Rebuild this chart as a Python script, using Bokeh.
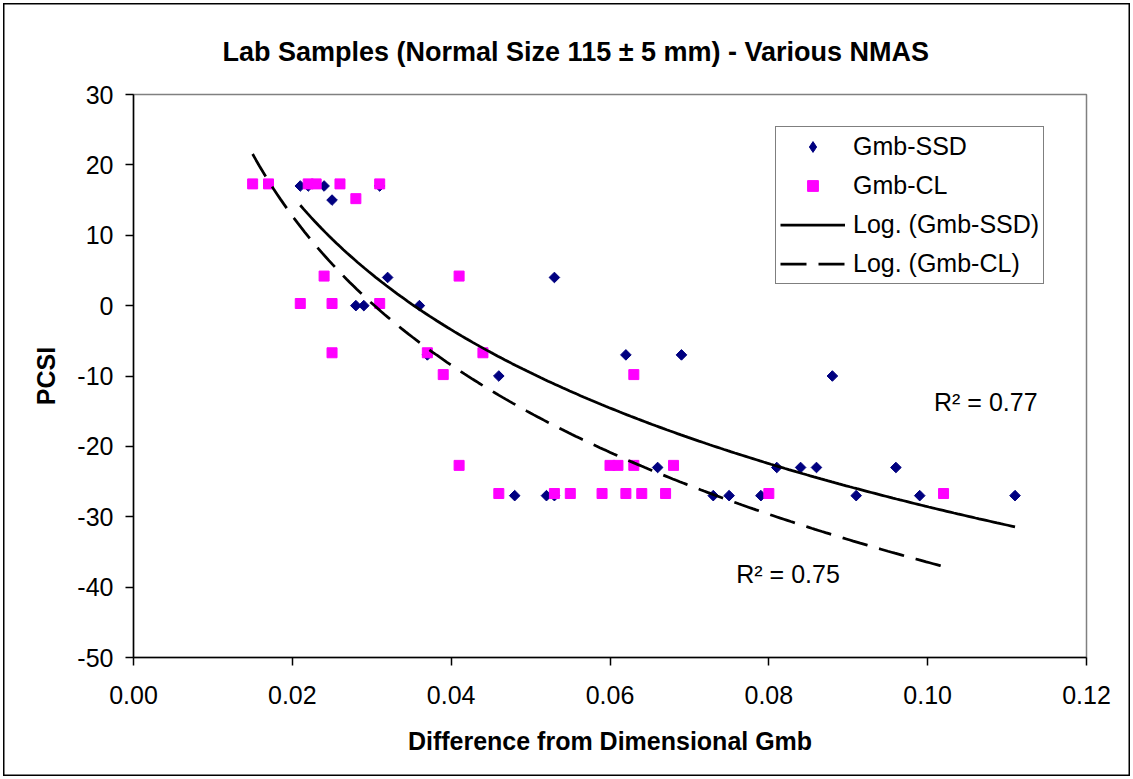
import numpy as np
from bokeh.plotting import figure
from bokeh.models import (Legend, LegendItem, Label, Range1d, FixedTicker,
                          NumeralTickFormatter)
from bokeh.embed import file_html
from bokeh.resources import INLINE

# ---------------- data ----------------
ssd_x = [0.021, 0.022, 0.024, 0.031, 0.025, 0.032, 0.053, 0.028, 0.029, 0.036,
         0.037, 0.062, 0.069, 0.046, 0.088, 0.066, 0.081, 0.084, 0.086, 0.096,
         0.048, 0.052, 0.053, 0.073, 0.075, 0.079, 0.091, 0.099, 0.111]
ssd_y = [17, 17, 17, 17, 15, 4, 4, 0, 0, 0,
         -7, -7, -7, -10, -10, -23, -23, -23, -23, -23,
         -27, -27, -27, -27, -27, -27, -27, -27, -27]

cl_x = [0.015, 0.017, 0.022, 0.023, 0.026, 0.031, 0.028, 0.024, 0.041,
        0.021, 0.025, 0.031, 0.025, 0.037, 0.044, 0.039, 0.063,
        0.041, 0.060, 0.061, 0.063, 0.068,
        0.046, 0.053, 0.055, 0.059, 0.062, 0.064, 0.067, 0.080, 0.102]
cl_y = [17.3, 17.3, 17.3, 17.3, 17.3, 17.3, 15.2, 4.2, 4.2,
        0.3, 0.3, 0.3, -6.7, -6.7, -6.7, -9.8, -9.8,
        -22.7, -22.7, -22.7, -22.7, -22.7,
        -26.7, -26.7, -26.7, -26.7, -26.7, -26.7, -26.7, -26.7, -26.7]

x_ticks = [0.00, 0.02, 0.04, 0.06, 0.08, 0.10, 0.12]
y_ticks = [-50, -40, -30, -20, -10, 0, 10, 20, 30]

title_text = "Lab Samples (Normal Size 115 \u00b1 5 mm) - Various NMAS"
x_label = "Difference from Dimensional Gmb"
y_label = "PCSI"
series_names = ["Gmb-SSD", "Gmb-CL", "Log. (Gmb-SSD)", "Log. (Gmb-CL)"]
r2_texts = ["R\u00b2 = 0.77", "R\u00b2 = 0.75"]

FONT = "Liberation Sans"


def log_trend(xs, ys, n=200):
    xs = np.asarray(xs, float)
    ys = np.asarray(ys, float)
    a, b = np.polyfit(np.log(xs), ys, 1)
    gx = np.linspace(xs.min(), xs.max(), n)
    return gx, a * np.log(gx) + b


p = figure(width=1133, height=779, output_backend="svg", toolbar_location=None,
           x_range=Range1d(0, 0.12), y_range=Range1d(-50, 30),
           min_border_left=133, min_border_right=47,
           min_border_top=94, min_border_bottom=122,
           background_fill_color="white", border_fill_color="white",
           border_fill_alpha=0.0)
# outer chart-area border drawn by the host element behind the transparent border area
p.styles = {"background-color": "white",
            "box-shadow": "inset 0 0 0 3px white, inset 0 0 0 4.5px black"}

p.title.text = title_text
p.title.align = "left"
p.title.offset = 89
p.title.text_font = FONT
p.title.text_font_size = "27px"
p.title.text_font_style = "bold"
p.title.text_color = "black"
p.title.standoff = 56

p.xgrid.grid_line_color = None
p.ygrid.grid_line_color = None
p.outline_line_color = "#808080"
p.outline_line_width = 1.5

for ax in (p.xaxis[0], p.yaxis[0]):
    ax.axis_line_color = "black"
    ax.axis_line_width = 1.5
    ax.major_tick_line_color = "black"
    ax.major_tick_line_width = 1.5
    ax.major_tick_out = 8
    ax.major_tick_in = 0
    ax.minor_tick_line_color = None
    ax.major_label_text_font = FONT
    ax.major_label_text_font_size = "25px"
    ax.major_label_text_color = "black"
    ax.axis_label_text_font = FONT
    ax.axis_label_text_font_size = "25px"
    ax.axis_label_text_font_style = "bold"
    ax.axis_label_text_color = "black"

p.xaxis.ticker = FixedTicker(ticks=x_ticks)
p.yaxis.ticker = FixedTicker(ticks=y_ticks)
p.xaxis.formatter = NumeralTickFormatter(format="0.00")
p.yaxis.formatter = NumeralTickFormatter(format="0")
p.xaxis.axis_label = x_label
p.yaxis.axis_label = y_label
p.xaxis.major_label_standoff = 20
p.yaxis.major_label_standoff = 12
p.xaxis.axis_label_standoff = 20
p.yaxis.axis_label_standoff = 14

# legend-only proxy (diamond shape for the legend swatch)
r_ssd_leg = p.scatter(ssd_x[:1], ssd_y[:1], marker="diamond", size=10,
                      fill_color="#000080", line_color="#000080", visible=False)
r_ssd = p.scatter(ssd_x, ssd_y, marker="square", angle=np.pi / 4, size=7.5,
                  fill_color="#000080", line_color="#000080")
r_cl = p.scatter(cl_x, cl_y, marker="square", size=10,
                 fill_color="#FF00FF", line_color="#FF00FF")

tx1, ty1 = log_trend(ssd_x, ssd_y)
tx2, ty2 = log_trend(cl_x, cl_y)
r_l1 = p.line(tx1, ty1, line_color="black", line_width=2.75)
r_l2 = p.line(tx2, ty2, line_color="black", line_width=2.75, line_dash="26 12")

legend = Legend(items=[
    LegendItem(label=series_names[0], renderers=[r_ssd_leg]),
    LegendItem(label=series_names[1], renderers=[r_cl]),
    LegendItem(label=series_names[2], renderers=[r_l1]),
    LegendItem(label=series_names[3], renderers=[r_l2]),
], location=(642, 373))
legend.margin = 0
legend.padding = 4
legend.spacing = 8
legend.glyph_width = 65
legend.glyph_height = 27
legend.label_height = 31
legend.label_standoff = 8
legend.label_text_font = FONT
legend.label_text_font_size = "25px"
legend.label_text_color = "black"
legend.border_line_color = "black"
legend.border_line_width = 1.5
legend.background_fill_color = "white"
legend.background_fill_alpha = 1.0
legend.inactive_fill_alpha = 0.0
p.add_layout(legend)

p.add_layout(Label(x=0.1008, y=-13.7, text=r2_texts[0], text_font=FONT,
                   text_font_size="25px", text_color="black",
                   text_baseline="alphabetic"))
p.add_layout(Label(x=0.0759, y=-38.2, text=r2_texts[1], text_font=FONT,
                   text_font_size="25px", text_color="black",
                   text_baseline="alphabetic"))

open("out.html", "w").write(file_html(p, INLINE))
